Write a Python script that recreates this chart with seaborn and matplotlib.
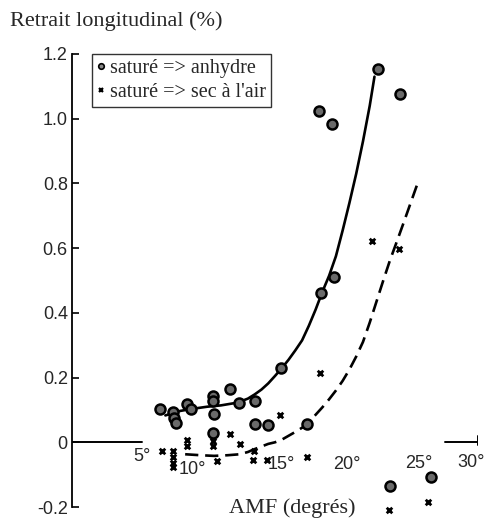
import matplotlib
matplotlib.use("Agg")
import matplotlib.pyplot as plt
import seaborn as sns
import pandas as pd
from matplotlib.lines import Line2D

# ---- data ----
circ_x = [6.5, 7.49, 7.54, 7.69, 8.48, 8.78, 10.45, 10.45, 10.5, 10.45, 11.69, 12.37,
          13.54, 13.54, 14.45, 15.43, 17.36, 18.39, 19.33, 18.22, 19.2, 22.58, 24.2,
          23.47, 26.53]
circ_y = [0.104, 0.094, 0.076, 0.061, 0.117, 0.104, 0.143, 0.128, 0.086, 0.03, 0.164, 0.122,
          0.128, 0.056, 0.052, 0.23, 0.058, 0.46, 0.51, 1.025, 0.984, 1.153, 1.076,
          -0.135, -0.106]

cross_x = [6.63, 7.45, 7.49, 7.49, 7.49, 8.53, 8.53, 10.45, 10.45, 10.7, 11.64, 12.4,
           13.48, 13.41, 14.4, 15.38, 17.4, 18.34, 22.16, 24.14, 23.4, 26.28]
cross_y = [-0.027, -0.027, -0.047, -0.063, -0.077, 0.007, -0.011, 0.004, -0.011, -0.058,
           0.025, -0.006, -0.027, -0.055, -0.055, 0.083, -0.047, 0.213, 0.621, 0.598,
           -0.21, -0.184]

# fitted curves
solid_x = [6.9, 8.0, 9.0, 10.0, 11.0, 12.0, 12.5, 13.0, 13.5, 14.0, 14.5, 15.0, 15.5, 16.0,
           16.5, 17.0, 17.5, 18.0, 18.5, 19.0, 19.5, 20.0, 20.5, 21.0, 21.5, 22.0, 22.35]
solid_y = [0.083, 0.097, 0.104, 0.110, 0.114, 0.121, 0.127, 0.135, 0.148, 0.163, 0.182, 0.205,
           0.229, 0.255, 0.284, 0.315, 0.36, 0.41, 0.465, 0.515, 0.575, 0.655, 0.74, 0.83,
           0.93, 1.04, 1.13]

dash_x = [8.36, 9.5, 10.5, 11.5, 12.4, 13.0, 13.5, 14.0, 14.5, 15.0, 15.5, 16.0, 16.5, 17.0,
          17.5, 18.0, 18.5, 19.0, 19.5, 20.0, 20.5, 21.0, 21.5, 22.0, 22.5, 23.0, 23.5,
          24.0, 24.5, 25.0, 25.5]
dash_y = [-0.037, -0.04, -0.042, -0.04, -0.037, -0.03, -0.021, -0.013, -0.005, 0.0, 0.008,
          0.02, 0.032, 0.045, 0.062, 0.085, 0.108, 0.133, 0.16, 0.19, 0.225, 0.265, 0.31,
          0.37, 0.435, 0.5, 0.563, 0.62, 0.678, 0.737, 0.796]

yticks = [1.2, 1.0, 0.8, 0.6, 0.4, 0.2, 0.0, -0.2]
ytick_labels = ["1.2", "1.0", "0.8", "0.6", "0.4", "0.2", "0", "-0.2"]
xtick_labels = ["5°", "10°", "15°", "20°", "25°", "30°"]
xtick_pos = [5.2, 8.9, 15.5, 20.3, 25.6, 29.5]
xtick_off = [-0.043, -0.083, -0.068, -0.07, -0.065, -0.062]

title = "Retrait longitudinal (%)"
xlabel = "AMF (degrés)"
legend_labels = ["saturé => anhydre", "saturé => sec à l'air"]

sns.set_theme(style="white")
serif = ["Liberation Serif", "DejaVu Serif"]
sans = ["Liberation Sans", "DejaVu Sans"]

fig = plt.figure(figsize=(4.86, 5.23), dpi=100)
ax = fig.add_axes([72 / 486, 16 / 523, 406 / 486, 453 / 523])

df_c = pd.DataFrame({"x": circ_x, "y": circ_y})
df_x = pd.DataFrame({"x": cross_x, "y": cross_y})
df_s = pd.DataFrame({"x": solid_x, "y": solid_y})
df_d = pd.DataFrame({"x": dash_x, "y": dash_y})

sns.lineplot(data=df_s, x="x", y="y", ax=ax, color="black", lw=1.9, sort=False, estimator=None)
sns.lineplot(data=df_d, x="x", y="y", ax=ax, color="black", lw=1.9, sort=False, estimator=None,
             dashes=False, linestyle=(0, (5, 2.6)))
sns.scatterplot(data=df_c, x="x", y="y", ax=ax, marker="o", s=52, facecolor="#6a6a6a",
                edgecolor="black", linewidth=1.8, zorder=3, clip_on=False)
sns.scatterplot(data=df_x, x="x", y="y", ax=ax, marker="x", s=16, color="black",
                linewidth=2.0, zorder=3, clip_on=False)

ax.set_xlim(0, 30)
ax.set_ylim(-0.2, 1.2)
ax.set_xlabel("")
ax.set_ylabel("")

for s in ["top", "right", "bottom"]:
    ax.spines[s].set_visible(False)
ax.spines["left"].set_color("black")
ax.spines["left"].set_linewidth(1.3)

ax.set_yticks(yticks)
ax.set_yticklabels(ytick_labels, fontfamily=sans, fontsize=13)
ax.tick_params(axis="y", direction="in", length=5, width=1.2, color="black", pad=3, left=True)
ax.set_xticks([])

# broken x axis line at y = 0
ax.axhline(0, xmin=0, xmax=70 / 406, color="black", lw=1.4)
ax.axhline(0, xmin=373 / 406, xmax=1, color="black", lw=1.4)
ax.axvline(30, ymin=(507 - 445) / 453, ymax=(507 - 436) / 453, color="black", lw=1.4)

for lab, xp, yo in zip(xtick_labels, xtick_pos, xtick_off):
    ax.text(xp, yo, lab, ha="center", va="center", fontsize=13, family=sans)

fig.text(10 / 486, 1 - 21 / 523, title, ha="left", va="center", fontsize=16, family=serif)
fig.text(292 / 486, 1 - 508 / 523, xlabel, ha="center", va="center", fontsize=16, family=serif)

handles = [
    Line2D([], [], marker="o", ls="none", markersize=4, markerfacecolor="#888888",
           markeredgecolor="black", markeredgewidth=1.2),
    Line2D([], [], marker="x", ls="none", markersize=3.5, color="black", markeredgewidth=1.6),
]
leg = ax.legend(handles, legend_labels, loc="upper left", bbox_to_anchor=(20 / 406, 1.0),
                borderaxespad=0, frameon=True, fancybox=False, handlelength=0.4,
                handletextpad=0.25, borderpad=0.25, labelspacing=0.25,
                prop={"family": serif, "size": 14.5})
leg.get_frame().set_edgecolor("black")
leg.get_frame().set_linewidth(1.0)

fig.savefig("out.png", dpi=100, facecolor="white")
